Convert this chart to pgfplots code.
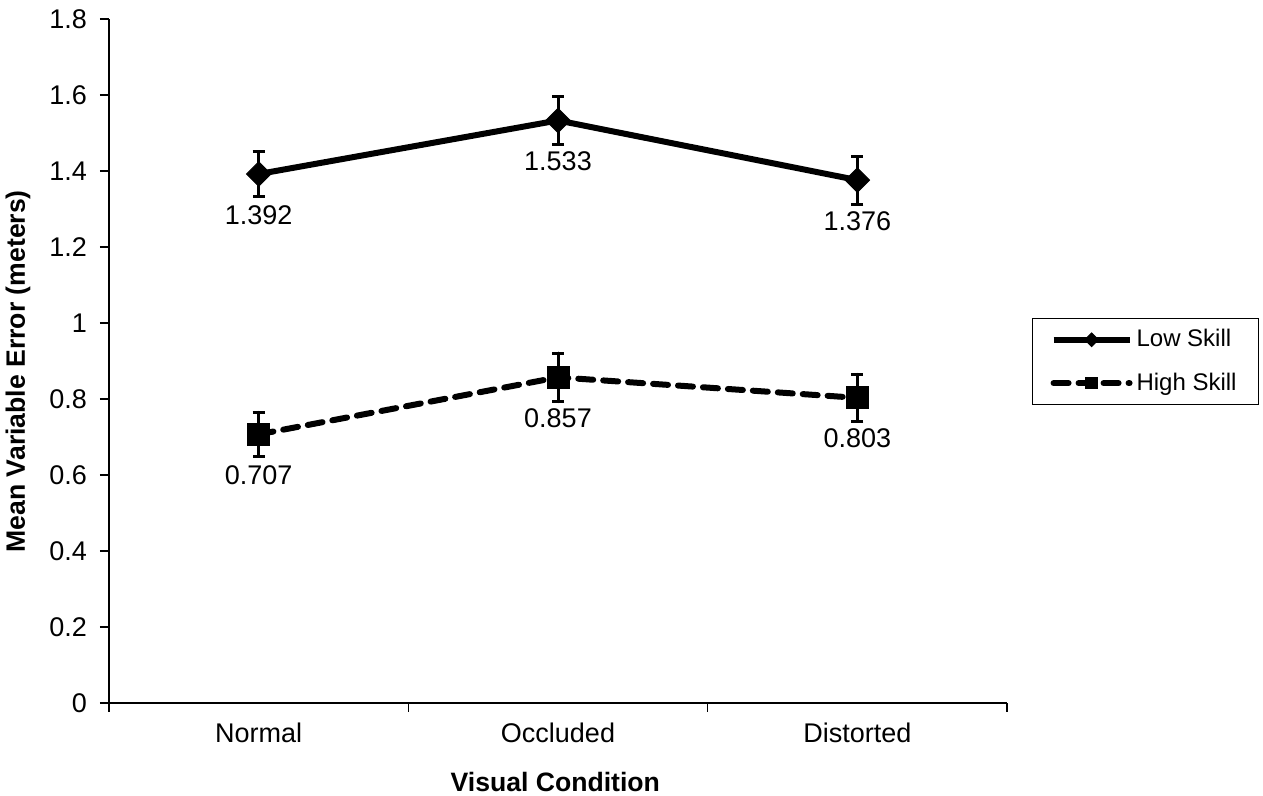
\documentclass[border=0pt]{standalone}
\usepackage{pgfplots}
\pgfplotsset{compat=1.18}
\usepackage{pgfplotstable}
\usepackage{fontspec}
\setmainfont{Liberation Sans}
\pgfplotstableread{
x y err lab
0.5 1.392 0.058 1.392
1.5 1.533 0.063 1.533
2.5 1.376 0.063 1.376
}\lowskill
\pgfplotstableread{
x y err lab
0.5 0.707 0.058 0.707
1.5 0.857 0.064 0.857
2.5 0.803 0.062 0.803
}\highskill
\begin{document}
\begin{tikzpicture}
\begin{axis}[
  at={(0,0)}, anchor=south west,
  scale only axis,
  width=449pt, height=342pt,
  xmin=0, xmax=3, ymin=0, ymax=1.8,
  axis lines*=left,
  axis line style={line width=0.6pt, black},
  tick align=outside,
  major tick length=4.5pt,
  tick style={line width=0.6pt, black},
  xtick={0,1,2,3}, xticklabels={},
  extra x ticks={0.5,1.5,2.5},
  extra x tick labels={Normal,Occluded,Distorted},
  extra x tick style={major tick length=0pt, xticklabel style={yshift=-6.5pt}},
  ytick={0,0.2,...,1.8},
  yticklabel style={xshift=-3pt},
  /pgf/number format/assume math mode=true,
  ticklabel style={font=\fontsize{13.5}{15}\selectfont},
  xlabel={\bfseries Visual Condition},
  ylabel={\bfseries Mean Variable Error (meters)},
  label style={font=\fontsize{13.3}{15}\selectfont},
  xlabel style={at={(axis description cs:0.497,-0.1155)}, anchor=center},
  ylabel style={at={(axis description cs:-0.1013,0.485)}, anchor=center},
  clip=false,
  legend style={at={(axis description cs:1.0278,0.5629)}, anchor=north west,
    draw=black, line width=0.6pt, font=\fontsize{12}{14}\selectfont,
    inner xsep=9pt, inner ysep=3.5pt, row sep=7.5pt},
  legend cell align=left,
  legend image code/.code={\draw[mark repeat=2,mark phase=2,#1] plot coordinates {(0pt,0pt) (19pt,0pt) (38pt,0pt)};},
  nodes near coords,
  point meta=explicit symbolic,
  nodes near coords style={font=\fontsize{13.5}{15}\selectfont, black, anchor=north, yshift=-12pt},
]
\addplot+[black, line width=3pt, solid,
  mark=square*, mark size=4.3pt, mark options={rotate=45, solid, fill=black, line width=0.5pt},
  legend image post style={mark size=2.4pt},
  error bars/.cd, y dir=both, y explicit,
  error bar style={line width=1.5pt, solid, black},
  error mark options={line width=1.5pt, mark size=3pt, black, solid, rotate=90}]
  table[x=x, y=y, y error=err, meta=lab] {\lowskill};
\addlegendentry{Low Skill}
\addplot+[black, line width=3pt, dash pattern=on 7.5pt off 5pt, line cap=round,
  mark=square*, mark size=5.5pt, mark options={solid, fill=black, line width=0.5pt},
  legend image post style={mark size=2.8pt},
  error bars/.cd, y dir=both, y explicit,
  error bar style={line width=1.5pt, solid, black},
  error mark options={line width=1.5pt, mark size=3pt, black, solid, rotate=90}]
  table[x=x, y=y, y error=err, meta=lab] {\highskill};
\addlegendentry{High Skill}
\end{axis}
\pgfresetboundingbox
\path[use as bounding box] (-54.5pt,-46.5pt) rectangle (577pt,351.5pt);
\end{tikzpicture}
\end{document}
